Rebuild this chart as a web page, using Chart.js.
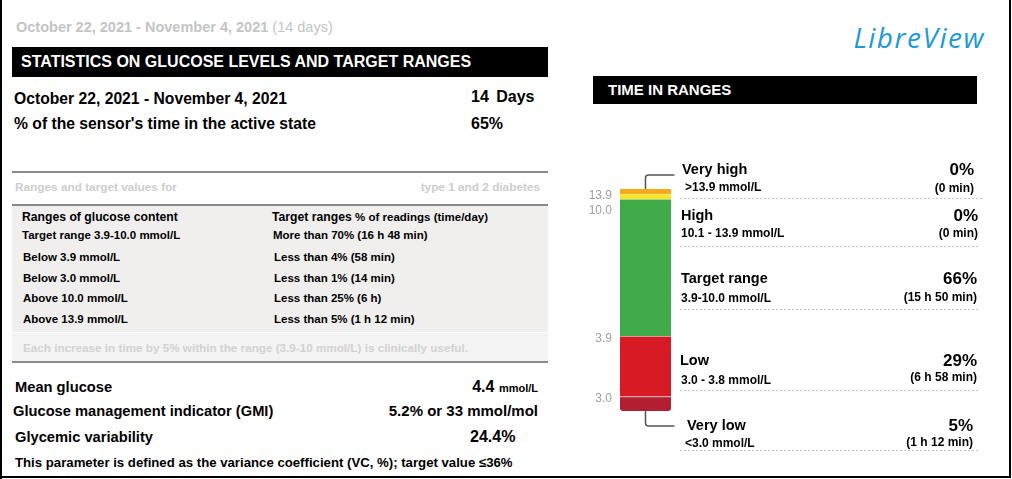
<!DOCTYPE html>
<html>
<head>
<meta charset="utf-8">
<title>Time in ranges</title>
<script src="https://cdn.jsdelivr.net/npm/chart.js@4.4.0/dist/chart.umd.min.js"></script>
<style>
  html, body { margin: 0; padding: 0; background: #fff; }
  body {
    width: 1012px; height: 479px; position: relative; overflow: hidden;
    font-family: "Liberation Sans", Arial, sans-serif; font-weight: bold; color: #000;
  }
  .t { position: absolute; white-space: nowrap; line-height: 1; }
  .box { position: absolute; }
  .row { font-size: 11.5px; }
  .dash {
    position: absolute; height: 1px;
    background: repeating-linear-gradient(90deg, #c4c4c4 0 2px, transparent 2px 4px);
  }
  #tirChart { position: absolute; left: 585px; top: 150px; }
</style>
</head>
<body>

<!-- page frame -->
<div class="box" style="left:0;top:0;width:2px;height:479px;background:#000"></div>
<div class="box" style="left:0;top:476px;width:1011px;height:2px;background:#000"></div>
<div class="box" style="left:1009px;top:0;width:2px;height:478px;background:#000"></div>

<!-- left column -->
<div class="t" style="left:16px;top:19.5px;font-size:14.5px;color:#c4c4c4">October 22, 2021 - November 4, 2021 <span style="font-weight:normal">(14 days)</span></div>

<div class="box" style="left:12px;top:47px;width:536px;height:30px;background:#000"></div>
<div class="t" style="left:21px;top:54px;font-size:16px;color:#fff">STATISTICS ON GLUCOSE LEVELS AND TARGET RANGES</div>

<div class="t" style="left:14px;top:91px;font-size:15.7px">October 22, 2021 - November 4, 2021</div>
<div class="t" style="left:471px;top:89px;font-size:16px;word-spacing:3px">14 Days</div>
<div class="t" style="left:14px;top:116px;font-size:15.7px">% of the sensor's time in the active state</div>
<div class="t" style="left:471px;top:116px;font-size:16px">65%</div>

<div class="box" style="left:12px;top:171px;width:536px;height:2px;background:#8a8a8a"></div>
<div class="t" style="left:15px;top:182px;font-size:11.8px;color:#cdcdcd">Ranges and target values for</div>
<div class="t" style="right:472px;top:182px;font-size:11.8px;color:#cdcdcd">type 1 and 2 diabetes</div>
<div class="box" style="left:12px;top:204px;width:536px;height:2px;background:#8a8a8a"></div>

<div class="box" style="left:12px;top:206px;width:536px;height:126px;background:#f0efee"></div>
<div class="box" style="left:12px;top:333px;width:536px;height:28px;background:#f4f3f3"></div>

<div class="t" style="left:22px;top:211px;font-size:12.2px">Ranges of glucose content</div>
<div class="t" style="left:272px;top:211px;font-size:12.2px">Target ranges <span style="font-size:11.5px">% of readings (time/day)</span></div>
<div class="t row" style="left:22px;top:230px">Target range 3.9-10.0 mmol/L</div>
<div class="t row" style="left:273px;top:230px">More than 70% (16 h 48 min)</div>
<div class="t row" style="left:23px;top:252px">Below 3.9 mmol/L</div>
<div class="t row" style="left:274px;top:252px">Less than 4% (58 min)</div>
<div class="t row" style="left:23px;top:272.5px">Below 3.0 mmol/L</div>
<div class="t row" style="left:274px;top:272.5px">Less than 1% (14 min)</div>
<div class="t row" style="left:23px;top:292.5px">Above 10.0 mmol/L</div>
<div class="t row" style="left:274px;top:292.5px">Less than 25% (6 h)</div>
<div class="t row" style="left:23px;top:313.5px">Above 13.9 mmol/L</div>
<div class="t row" style="left:274px;top:313.5px">Less than 5% (1 h 12 min)</div>
<div class="t" style="left:23px;top:342px;font-size:11.7px;color:#d2d2d2">Each increase in time by 5% within the range (3.9-10 mmol/L) is clinically useful.</div>

<div class="box" style="left:12px;top:361px;width:536px;height:2px;background:#8a8a8a"></div>

<div class="t" style="left:15px;top:379.5px;font-size:14.7px">Mean glucose</div>
<div class="t" style="right:474px;top:379px;font-size:16px">4.4 <span style="font-size:11px">mmol/L</span></div>
<div class="t" style="left:13px;top:403.5px;font-size:14.7px">Glucose management indicator (GMI)</div>
<div class="t" style="right:474px;top:403px;font-size:15px">5.2% or 33 mmol/mol</div>
<div class="t" style="left:15px;top:429.5px;font-size:14.7px">Glycemic variability</div>
<div class="t" style="left:470px;top:429px;font-size:16px">24.4%</div>
<div class="t" style="left:15px;top:455.5px;font-size:13.2px">This parameter is defined as the variance coefficient (VC, %); target value ≤36%</div>

<!-- right column -->
<div class="t" style="right:27px;top:23px;font-family:'Open Sans',sans-serif;font-style:italic;font-weight:normal;font-size:28px;letter-spacing:1.5px;color:#1d9ad6">LibreView</div>
<div class="box" style="left:593px;top:76px;width:384px;height:28px;background:#000"></div>
<div class="t" style="left:608px;top:82px;font-size:15px;color:#fff">TIME IN RANGES</div>

<canvas id="tirChart" width="110" height="300"></canvas>
<div id="rangeLabels"></div>

<script>
const rangeNames = ["Very high", "High", "Target range", "Low", "Very low"];
const rangeLimits = [">13.9 mmol/L", "10.1 - 13.9 mmol/L", "3.9-10.0 mmol/L", "3.0 - 3.8 mmol/L", "<3.0 mmol/L"];
const timePercent = [0, 0, 66, 29, 5];
const timePerDay = ["0 min", "0 min", "15 h 50 min", "6 h 58 min", "1 h 12 min"];
const boundaryTicks = ["13.9", "10.0", "3.9", "3.0"];

// ---- styling ----
const rangeColors = ["#f8a91c", "#fbe520", "#40ab4a", "#d71b24", "#b21f30"];
const seamColors = ["#f8a91c", "#fdf08c", "#9fd5a4", "#eb9195", "#dc9aa1"];

// empty ranges still get a thin sliver, small ones a minimum height
function barShare(v) {
  if (v === 0) return 2.5;
  return Math.max(v, 7);
}

// stacked bottom-up, so walk the ranges in reverse
const datasets = rangeNames.map((name, i) => ({
  label: name,
  data: [barShare(timePercent[i])],
  backgroundColor: rangeColors[i],
  borderColor: seamColors[i],
  borderWidth: i === 0 ? 0 : { top: 1, right: 0, bottom: 0, left: 0 },
  borderSkipped: false,
  borderRadius: i === 0
    ? { topLeft: 3, topRight: 3, bottomLeft: 0, bottomRight: 0 }
    : i === rangeNames.length - 1
      ? { topLeft: 0, topRight: 0, bottomLeft: 3, bottomRight: 3 }
      : 0,
  barPercentage: 1,
  categoryPercentage: 1
})).reverse();

const total = datasets.reduce((s, d) => s + d.data[0], 0);

// boundary values on the left of the bar + connector lines to the outside labels
const rangeMarks = {
  id: "rangeMarks",
  afterDatasetsDraw(chart) {
    const ctx = chart.ctx;
    const bar = i => chart.getDatasetMeta(rangeNames.length - 1 - i).data[0];
    const top = bar(0);
    const bottom = bar(rangeNames.length - 1);
    const cx = top.x;
    const left = cx - top.width / 2;

    ctx.save();
    ctx.font = "12px 'Liberation Sans', Arial, sans-serif";
    ctx.fillStyle = "#a0a0a0";
    ctx.textAlign = "right";
    ctx.textBaseline = "middle";
    let last = -Infinity;
    boundaryTicks.forEach((lbl, k) => {
      let y = bar(k).base + 2;
      if (y < last + 15) y = last + 15;
      ctx.fillText(lbl, left - 8, y);
      last = y;
    });

    ctx.strokeStyle = "#555";
    ctx.lineWidth = 1.5;
    const ex = cx + 29;
    const ty = top.y - 14;
    ctx.beginPath();
    ctx.moveTo(cx, top.y);
    ctx.arcTo(cx, ty, ex, ty, 3);
    ctx.lineTo(ex, ty);
    const by = bottom.base + 15;
    ctx.moveTo(cx, bottom.base);
    ctx.arcTo(cx, by, ex, by, 3);
    ctx.lineTo(ex, by);
    ctx.stroke();
    ctx.restore();
  }
};

new Chart(document.getElementById("tirChart"), {
  type: "bar",
  data: { labels: ["Time in ranges"], datasets },
  options: {
    responsive: false,
    animation: false,
    layout: { padding: { top: 39, bottom: 39, left: 35, right: 24 } },
    scales: {
      x: { stacked: true, display: false },
      y: { stacked: true, display: false, min: 0, max: total }
    },
    plugins: { legend: { display: false }, tooltip: { enabled: false } }
  },
  plugins: [rangeMarks]
});

// text rows next to the bar
const rowLayout = [
  { nameY: 170, subY: 187, timeY: 188, lineY: 198, nameX: 682, subX: 685, rightX: 974, x2: 982 },
  { nameY: 216, subY: 233, timeY: 233, lineY: 246, nameX: 681, subX: 681, rightX: 978, x2: 978 },
  { nameY: 279, subY: 298, timeY: 297, lineY: 309, nameX: 681, subX: 681, rightX: 977, x2: 978 },
  { nameY: 361, subY: 380, timeY: 377, lineY: 390, nameX: 680, subX: 681, rightX: 977, x2: 978 },
  { nameY: 426, subY: 443, timeY: 442, lineY: 450, nameX: 687, subX: 685, rightX: 973, x2: 980 }
];

const holder = document.getElementById("rangeLabels");
holder.innerHTML = rangeNames.map((name, i) => {
  const r = rowLayout[i];
  const right = 1012 - r.rightX;
  return `
    <div class="t" style="left:${r.nameX}px;top:${r.nameY - 8}px;font-size:14.5px">${name}</div>
    <div class="t" style="left:${r.subX}px;top:${r.subY - 6}px;font-size:12px">${rangeLimits[i].replace("<", "&lt;").replace(">", "&gt;")}</div>
    <div class="t" style="right:${right}px;top:${r.nameY - 9}px;font-size:17px">${timePercent[i]}%</div>
    <div class="t" style="right:${right}px;top:${r.timeY - 6}px;font-size:12px">(${timePerDay[i]})</div>
    <div class="dash" style="left:680px;top:${r.lineY}px;width:${r.x2 - 680}px"></div>`;
}).join("");
</script>
</body>
</html>
